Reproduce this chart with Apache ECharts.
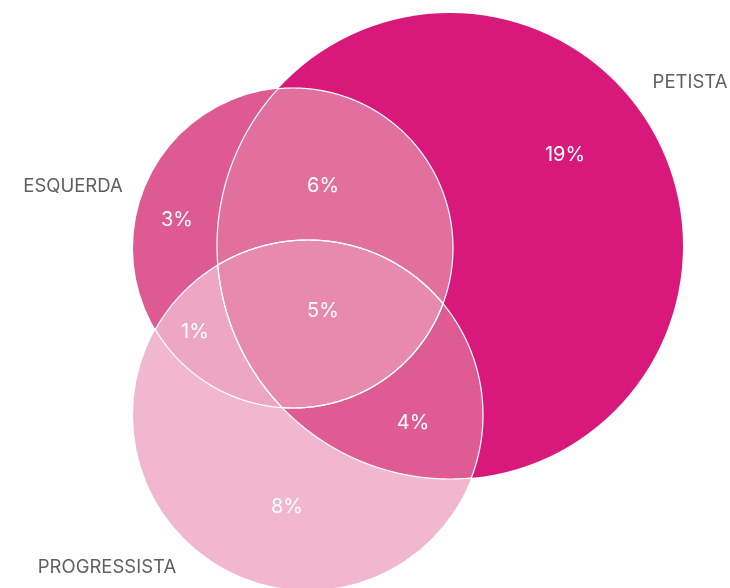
<!DOCTYPE html>
<html>
<head>
<meta charset="utf-8">
<script src="https://cdn.jsdelivr.net/npm/echarts@6/dist/echarts.min.js"></script>
<style>html,body{margin:0;padding:0;background:#fff}#c{width:730px;height:588px}</style>
</head>
<body>
<div id="c"></div>
<script>
// ---- data ----
var setNames = ['PETISTA', 'ESQUERDA', 'PROGRESSISTA'];
var regionSets = [['P'], ['E'], ['G'], ['E', 'P'], ['E', 'G'], ['P', 'G'], ['E', 'P', 'G']];
var regionValues = [19, 3, 8, 6, 1, 4, 5]; // %
// ---- layout (axis units) ----
var setKeys = ['P', 'E', 'G'];
var circleLayout = { P: [450, 246, 233], E: [293, 248, 160], G: [308, 415, 175] };
var setLabelPos = { P: [690, 82], E: [73, 186], G: [107, 567] };
var regionLabelPos = [[565, 155], [177, 220], [287, 507], [323, 186], [195, 332], [413, 423], [323, 311]];
var regionColors = ['#D8187A', '#DE5A92', '#F0B7CE', '#E2709F', '#EDA6C3', '#DF5B93', '#E78AAD'];

function pxCircle(api, k) {
  var c = circleLayout[k];
  var p = api.coord([c[0], c[1]]);
  var r = api.size([c[2], 0])[0];
  return [p[0], p[1], r];
}
function inside(pt, c) {
  var dx = pt[0] - c[0], dy = pt[1] - c[1];
  return dx * dx + dy * dy <= c[2] * c[2] + 0.5;
}
function intersectPolygon(circles) {
  var pts = [];
  var N = 1440;
  circles.forEach(function (c, i) {
    for (var j = 0; j < N; j++) {
      var a = j / N * Math.PI * 2;
      var pt = [c[0] + c[2] * Math.cos(a), c[1] + c[2] * Math.sin(a)];
      var ok = true;
      circles.forEach(function (o, m) { if (m !== i && !inside(pt, o)) ok = false; });
      if (ok) pts.push(pt);
    }
  });
  for (var i = 0; i < circles.length; i++) for (var j = i + 1; j < circles.length; j++) {
    var a = circles[i], b = circles[j];
    var dx = b[0] - a[0], dy = b[1] - a[1], d = Math.sqrt(dx * dx + dy * dy);
    var l = (a[2] * a[2] - b[2] * b[2] + d * d) / (2 * d);
    var h = Math.sqrt(Math.max(0, a[2] * a[2] - l * l));
    var mx = a[0] + dx * l / d, my = a[1] + dy * l / d;
    [[mx + h * dy / d, my - h * dx / d], [mx - h * dy / d, my + h * dx / d]].forEach(function (pt) {
      var ok = true;
      circles.forEach(function (o, m) { if (m !== i && m !== j && !inside(pt, o)) ok = false; });
      if (ok) pts.push(pt);
    });
  }
  var cx = 0, cy = 0;
  pts.forEach(function (p) { cx += p[0]; cy += p[1]; });
  cx /= pts.length; cy /= pts.length;
  pts.sort(function (p, q) { return Math.atan2(p[1] - cy, p[0] - cx) - Math.atan2(q[1] - cy, q[0] - cx); });
  return pts;
}

var chart = echarts.init(document.getElementById('c'), null, { renderer: 'canvas' });
var regionData = regionValues.map(function (v, i) { return [i, v]; });
var lensData = regionSets.map(function (s, i) { return [i]; }).filter(function (d) { return regionSets[d[0]].length === 2; });

chart.setOption({
  animation: false,
  grid: { left: 0, right: 0, top: 0, bottom: 0 },
  xAxis: { type: 'value', min: 0, max: 730, show: false },
  yAxis: { type: 'value', min: 0, max: 588, inverse: true, show: false },
  series: [
    {
      type: 'custom', coordinateSystem: 'cartesian2d', data: regionData, z: 1,
      renderItem: function (params, api) {
        var idx = api.value(0);
        var sets = regionSets[idx];
        var circles = sets.map(function (k) { return pxCircle(api, k); });
        if (circles.length === 1) {
          var c = circles[0];
          return { type: 'circle', shape: { cx: c[0], cy: c[1], r: c[2] }, style: { fill: regionColors[idx] } };
        }
        return { type: 'polygon', shape: { points: intersectPolygon(circles) }, style: { fill: regionColors[idx] } };
      }
    },
    {
      type: 'custom', coordinateSystem: 'cartesian2d', data: lensData, z: 2,
      renderItem: function (params, api) {
        var idx = api.value(0);
        var circles = regionSets[idx].map(function (k) { return pxCircle(api, k); });
        return { type: 'polygon', shape: { points: intersectPolygon(circles) }, style: { fill: 'none', stroke: '#ffffff', lineWidth: 1.2 } };
      }
    },
    {
      type: 'custom', coordinateSystem: 'cartesian2d', data: regionData, z: 3,
      renderItem: function (params, api) {
        var idx = api.value(0);
        var p = api.coord(regionLabelPos[idx]);
        return { type: 'text', x: p[0], y: p[1], style: { text: api.value(1) + '%', fill: '#ffffff', font: '400 20px Inter', align: 'center', verticalAlign: 'middle' } };
      }
    },
    {
      type: 'custom', coordinateSystem: 'cartesian2d', data: setNames.map(function (n, i) { return [i]; }), z: 3,
      renderItem: function (params, api) {
        var i = api.value(0);
        var p = api.coord(setLabelPos[setKeys[i]]);
        return { type: 'text', x: p[0], y: p[1], style: { text: setNames[i], fill: '#5f5f5f', font: '400 18.5px Inter', align: 'center', verticalAlign: 'middle' } };
      }
    }
  ]
});
</script>
</body>
</html>
